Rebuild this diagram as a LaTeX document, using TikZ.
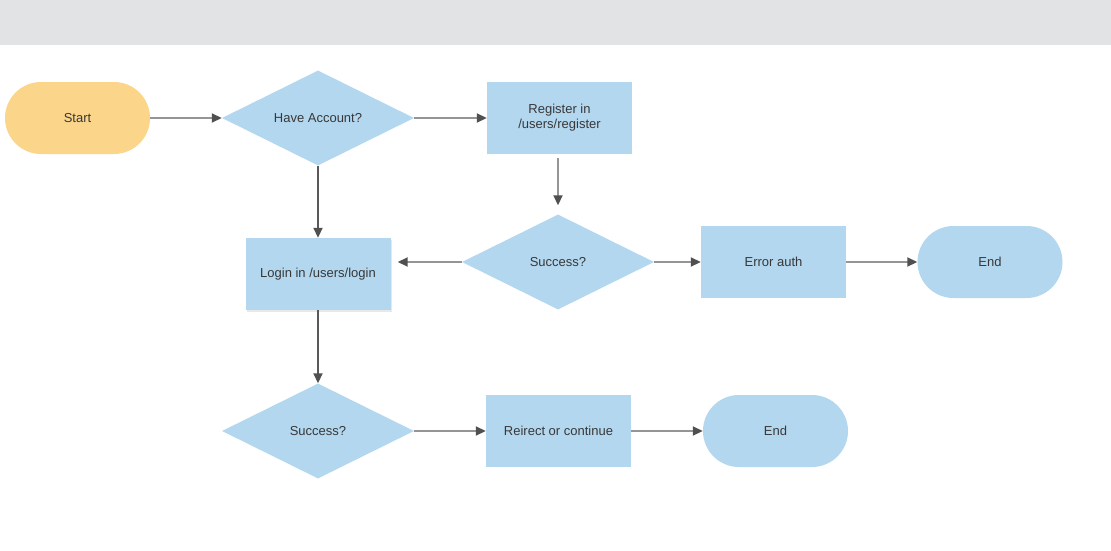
\documentclass[tikz,border=0pt]{standalone}
\usepackage{fontspec}
\setmainfont{Liberation Sans}
\usetikzlibrary{shapes.geometric,arrows.meta,shadows}
\definecolor{bandgray}{HTML}{E2E3E5}
\definecolor{nodeblue}{HTML}{B3D7EF}
\definecolor{nodeyellow}{HTML}{FBD58A}
\definecolor{linegray}{HTML}{959595}
\definecolor{linedark}{HTML}{595959}
\definecolor{tipgray}{HTML}{505050}
\definecolor{txt}{HTML}{383838}
\tikzset{
  x=1pt, y=-1pt,
  base/.style={draw=none, text=txt, font=\fontsize{13pt}{15pt}\selectfont, align=center, inner sep=0pt},
  procbox/.style={base, fill=nodeblue, minimum width=145pt, minimum height=72pt},
  termbox/.style={base, minimum width=145pt, minimum height=72pt, rounded corners=36pt},
  decbox/.style={base, fill=nodeblue, diamond, shape aspect=2, minimum width=192pt, minimum height=95pt},
  conn/.style={draw=linegray, line width=1.8pt, -{Triangle[length=10pt,width=9pt,color=tipgray]}},
}
\begin{document}
\begin{tikzpicture}
\useasboundingbox (0,0) rectangle (1111,551);
\fill[white] (0,0) rectangle (1111,551);
\fill[bandgray] (0,0) rectangle (1111,45.5);

\node[termbox, fill=nodeyellow] (start) at (77.5,118) {Start};
\node[decbox] (have) at (318,118) {Have Account?};
\node[procbox] (reg) at (559.5,118) {Register in\\/users/register};
\node[decbox] (succ1) at (558,262) {Success?};
\node[procbox] (err) at (773.5,262) {Error auth};
\node[termbox, fill=nodeblue] (end1) at (990,262) {End};
\node[procbox, drop shadow={opacity=0.18, shadow xshift=1pt, shadow yshift=-1.5pt}] (login) at (318,274) {Login in /users/login};
\node[decbox] (succ2) at (318,431) {Success?};
\node[procbox] (redir) at (558.5,431) {Reirect or continue};
\node[termbox, fill=nodeblue] (end2) at (775.5,431) {End};

\draw[conn] (start) -- (have);
\draw[conn] (have) -- (reg);
\draw[conn, draw=linedark] (have.south) -- (login.north);
\draw[conn, shorten <=4pt, shorten >=9pt] (reg.south -| succ1.north) -- (succ1.north);
\draw[conn, shorten >=7pt] (succ1.west) -- (login.east |- succ1.west);
\draw[conn] (succ1.east) -- (err.west);
\draw[conn] (err) -- (end1);
\draw[conn, draw=linedark] (login.south) -- (succ2.north);
\draw[conn] (succ2.east) -- (redir.west);
\draw[conn] (redir) -- (end2);
\end{tikzpicture}
\end{document}
